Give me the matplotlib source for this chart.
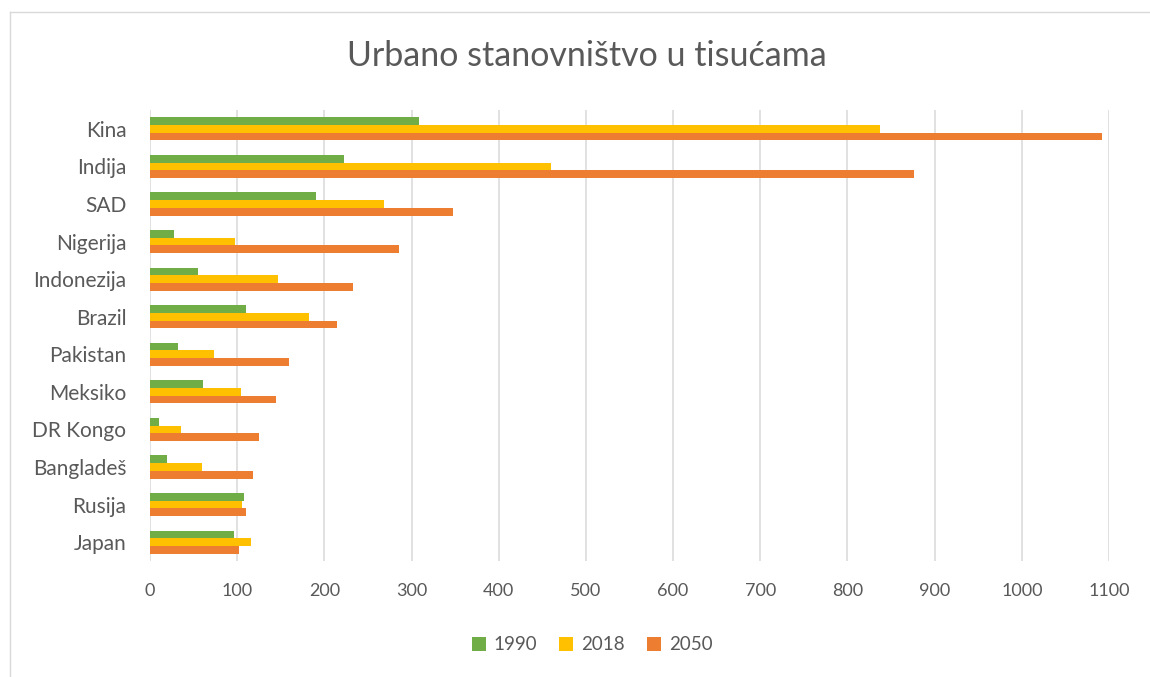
import numpy as np
import matplotlib.pyplot as plt
from matplotlib.lines import Line2D

plt.rcParams['font.family'] = ['Lato', 'DejaVu Sans']

# podaci (u tisućama)
zemlje = ['Kina', 'Indija', 'SAD', 'Nigerija', 'Indonezija', 'Brazil',
          'Pakistan', 'Meksiko', 'DR Kongo', 'Bangladeš', 'Rusija', 'Japan']
god_1990 = [309, 222, 190, 28, 55, 110, 32, 61, 10, 20, 108, 96]
god_2018 = [837, 460, 268, 98, 147, 182, 73, 104, 36, 60, 106, 116]
god_2050 = [1092, 876, 347, 286, 233, 214, 160, 144, 125, 118, 110, 102]
godine = ['1990', '2018', '2050']
boje = ['#70AD47', '#FFC000', '#ED7D31']
tekst = '#595959'

fig = plt.figure(figsize=(11.5, 6.77), dpi=100)
ax = fig.add_axes([150 / 1150, 1 - 561 / 677, (1109 - 150) / 1150, (561 - 110) / 677])

y = np.arange(len(zemlje))
h = 0.205
for i, (vals, boja) in enumerate(zip([god_1990, god_2018, god_2050], boje)):
    ax.barh(y + (i - 1) * h, vals, height=h, color=boja, label=godine[i], zorder=3)

ax.set_ylim(len(zemlje) - 0.5, -0.5)
ax.set_xlim(0, 1100)
ax.set_xticks(np.arange(0, 1101, 100))
ax.set_yticks(y)
ax.set_yticklabels(zemlje)
ax.xaxis.grid(True, color='#D9D9D9', linewidth=1.1, zorder=0)
ax.tick_params(axis='both', length=0, labelcolor=tekst)
ax.tick_params(axis='x', pad=16, labelsize=13)
ax.tick_params(axis='y', pad=17, labelsize=15)
for s in ax.spines.values():
    s.set_visible(False)

fig.text(587 / 1150, 1 - 56 / 677, 'Urbano stanovništvo u tisućama', ha='center', va='center',
         fontsize=24.5, color=tekst)

fig.legend(loc='center', bbox_to_anchor=(592 / 1150, 1 - 645 / 677), ncol=3, frameon=False,
           fontsize=13.5, labelcolor=tekst, handlelength=0.75, handleheight=0.75,
           handletextpad=0.4, columnspacing=1.2)

# okvir grafikona
fig.add_artist(Line2D([9.5 / 1150, 9.5 / 1150], [0, 1 - 11.5 / 677], transform=fig.transFigure,
                      color='#D9D9D9', linewidth=1))
fig.add_artist(Line2D([9.5 / 1150, 1], [1 - 11.5 / 677, 1 - 11.5 / 677], transform=fig.transFigure,
                      color='#D9D9D9', linewidth=1))

fig.savefig('out.png', dpi=100)
